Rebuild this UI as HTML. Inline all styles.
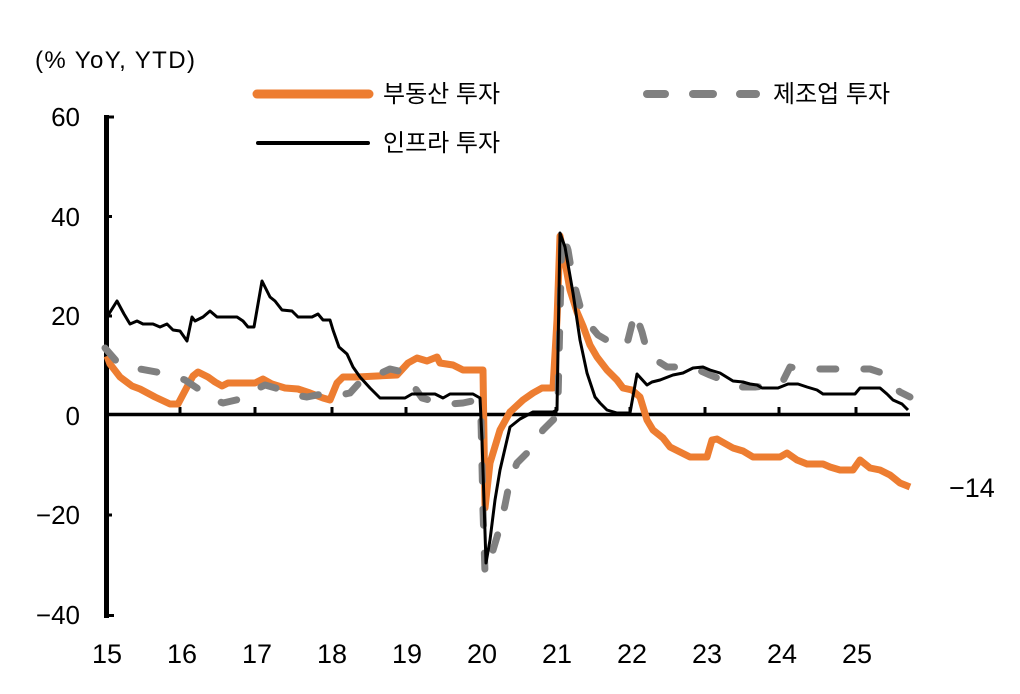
<!DOCTYPE html>
<html>
<head>
<meta charset="utf-8">
<style>
  html, body { margin: 0; padding: 0; background: #fff; }
  svg { display: block; }
  text { font-family: "Liberation Sans", "Noto Sans CJK KR", sans-serif; fill: #000; }
</style>
</head>
<body>
<svg width="1020" height="694" viewBox="0 0 1020 694" xmlns="http://www.w3.org/2000/svg">
  <rect x="0" y="0" width="1020" height="694" fill="#fff"/>

  <!-- unit label -->
  <text x="35" y="68" font-size="24" textLength="160" lengthAdjust="spacing">(% YoY, YTD)</text>

  <!-- legend -->
  <line x1="257" y1="94" x2="369" y2="94" stroke="#ED7D31" stroke-width="9" stroke-linecap="round"/>
  <text x="383" y="102" font-size="24">부동산 투자</text>
  <line x1="258" y1="143" x2="368" y2="143" stroke="#000" stroke-width="4" stroke-linecap="round"/>
  <text x="383" y="151" font-size="24">인프라 투자</text>
  <g stroke="#808080" stroke-width="8" stroke-linecap="round">
    <line x1="647" y1="94" x2="665" y2="94"/>
    <line x1="693" y1="94" x2="713" y2="94"/>
    <line x1="740" y1="94" x2="756" y2="94"/>
  </g>
  <text x="773" y="102" font-size="24">제조업 투자</text>

  <!-- y tick labels -->
  <g font-size="26" text-anchor="end">
    <text x="80" y="126">60</text>
    <text x="80" y="226">40</text>
    <text x="80" y="325">20</text>
    <text x="80" y="425">0</text>
    <text x="80" y="524">−20</text>
    <text x="80" y="624">−40</text>
  </g>

  <!-- x tick labels -->
  <g font-size="27" text-anchor="middle">
    <text x="107" y="663">15</text>
    <text x="182" y="663">16</text>
    <text x="257" y="663">17</text>
    <text x="332" y="663">18</text>
    <text x="407" y="663">19</text>
    <text x="482" y="663">20</text>
    <text x="557" y="663">21</text>
    <text x="632" y="663">22</text>
    <text x="707" y="663">23</text>
    <text x="782" y="663">24</text>
    <text x="857" y="663">25</text>
  </g>

  <!-- end label -->
  <text x="949" y="497" font-size="27">−14</text>

  <!-- axes -->
  <line x1="106.5" y1="115" x2="106.5" y2="618" stroke="#000" stroke-width="5"/>
  <g stroke="#000" stroke-width="3">
    <line x1="106" y1="117" x2="114" y2="117"/>
    <line x1="106" y1="216.5" x2="112" y2="216.5"/>
    <line x1="106" y1="316" x2="112" y2="316"/>
    <line x1="106" y1="515" x2="112" y2="515"/>
    <line x1="106" y1="615.5" x2="114" y2="615.5"/>
  </g>
  <line x1="107" y1="414.5" x2="910" y2="414.5" stroke="#000" stroke-width="3.5"/>
  <g stroke="#000" stroke-width="3">
    <line x1="180" y1="414" x2="180" y2="407"/>
    <line x1="255" y1="414" x2="255" y2="407"/>
    <line x1="332" y1="414" x2="332" y2="407"/>
    <line x1="406" y1="414" x2="406" y2="407"/>
    <line x1="481" y1="414" x2="481" y2="407"/>
    <line x1="556" y1="414" x2="556" y2="407"/>
    <line x1="630" y1="414" x2="630" y2="407"/>
    <line x1="705" y1="414" x2="705" y2="407"/>
    <line x1="779" y1="414" x2="779" y2="407"/>
    <line x1="856" y1="414" x2="856" y2="407"/>
  </g>

  <!-- real estate (orange) -->
  <polyline fill="none" stroke="#ED7D31" stroke-width="7" stroke-linejoin="round" stroke-linecap="butt"
    points="107,356 110,364 120,377 132,386 140,389 155,397 170,404 178,404 187,387 193,376 198,372 208,377 215,382 222,386 228,383 255,383 263,379 272,384 285,388 298,389 310,393 323,398 330,400 337,383 343,377 357,377 397,375 408,363 417,358 427,361 437,357 440,363 453,365 463,370 483,370 485,508 490,463 500,430 510,412 523,400 533,393 542,388 553,388 557,320 560,236 565,262 570,290 577,312 583,326 590,345 597,357 607,370 617,380 623,388 632,390 640,397 647,420 653,430 663,438 670,447 690,457 707,457 712,440 717,439 733,448 743,451 753,457 780,457 787,453 797,460 807,464 823,464 830,467 840,470 853,470 860,460 870,468 880,470 890,475 900,483 910,487"/>

  <!-- manufacturing (gray dashed) -->
  <polyline fill="none" stroke="#808080" stroke-width="7" stroke-linejoin="round" stroke-linecap="round" stroke-dasharray="16 28"
    points="105,348 118,363 130,368 140,369 162,373 175,376 185,380 203,392 215,400 223,403 245,398 255,390 265,385 283,390 295,395 307,397 327,393 340,395 350,393 360,382 370,378 390,369 407,373 415,388 422,398 437,402 450,404 463,403 477,400 481,420 483,510 485,573 490,560 500,527 505,505 510,480 517,463 530,450 543,430 555,418 558,400 562,232 568,250 573,280 583,317 598,335 610,342 620,348 628,340 635,312 642,332 648,355 667,367 692,367 710,375 730,383 740,387 755,387 778,385 782,383 790,367 800,369 860,369 870,369 882,373 892,385 900,392 910,397"/>

  <!-- infrastructure (black) -->
  <polyline fill="none" stroke="#000" stroke-width="3" stroke-linejoin="round"
    points="107,317 117,301 124,314 130,324 137,321 143,324 153,324 160,327 167,324 173,330 180,331 187,341 192,317 195,321 203,317 210,311 217,317 237,317 243,321 248,327 254,327 262,281 270,297 275,301 282,310 292,311 298,317 312,317 318,314 323,320 330,320 333,330 339,347 347,354 353,367 360,377 370,388 380,398 405,398 412,394 435,394 443,398 450,394 473,394 480,398 482,440 486,563 490,540 495,500 500,470 510,427 520,419 533,412 553,412 557,410 560,233 565,247 573,293 580,340 587,373 595,397 600,403 607,410 617,413 630,413 637,374 647,385 652,382 660,380 673,375 683,373 693,368 703,367 710,370 720,373 733,381 743,382 750,384 757,385 762,388 778,388 788,384 798,384 807,387 817,390 823,394 855,394 860,388 880,388 887,394 893,400 902,404 908,410"/>
</svg>
</body>
</html>
